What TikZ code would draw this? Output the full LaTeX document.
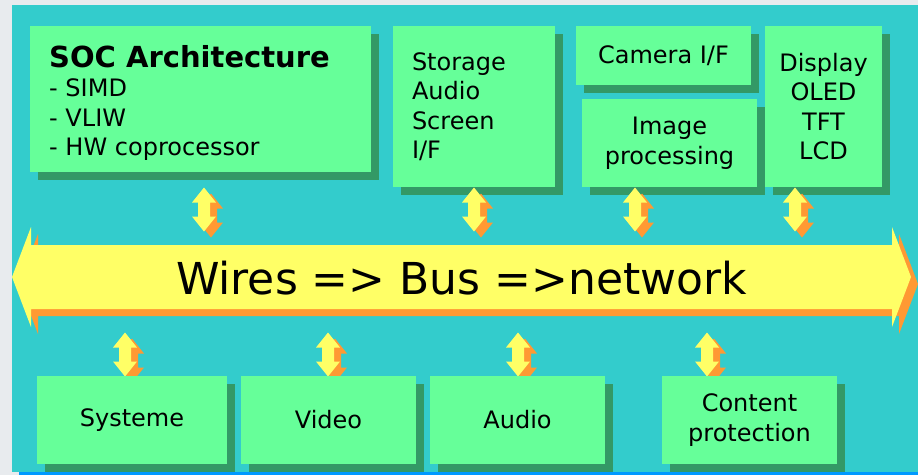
\documentclass[tikz,border=0pt]{standalone}
\usepackage{fontspec}
\setmainfont{DejaVu Sans}
\usetikzlibrary{shadows}
\definecolor{pagegray}{RGB}{232,235,238}
\definecolor{panelteal}{RGB}{51,204,204}
\definecolor{boxgreen}{RGB}{102,255,153}
\definecolor{boxshadow}{RGB}{51,153,102}
\definecolor{busyellow}{RGB}{255,255,102}
\definecolor{busorange}{RGB}{255,153,51}
\definecolor{lineblue}{RGB}{0,153,255}
\newcommand{\updown}{\fill[busorange] (7,6) -- (19,21) -- (13,21) -- (13,35) -- (19,35) -- (7,50) -- (-5,35) -- (1,35) -- (1,21) -- (-5,21) -- cycle;
					\fill[busyellow] (0,0) -- (12,15) -- (6,15) -- (6,29) -- (12,29) -- (0,44) -- (-12,29) -- (-6,29) -- (-6,15) -- (-12,15) -- cycle;}
\tikzset{
	box/.style={fill=boxgreen, inner sep=0pt, align=center,
		font=\fontsize{24}{29.5}\selectfont,
		drop shadow={shadow xshift=8pt, shadow yshift=-8pt, fill=boxshadow, opacity=1}},
	boxtext/.style={inner sep=0pt, align=left, font=\fontsize{24}{29.5}\selectfont},
	bustext/.style={inner sep=0pt, font=\fontsize{44}{50}\selectfont}
}

\begin{document}
\begin{tikzpicture}[x=1pt, y=-1pt]

					\fill[pagegray] (0,0) rectangle (918,475);
					\useasboundingbox (0,0) rectangle (918,475);
					\fill[panelteal] (12,5) rectangle (918,472);
					\fill[lineblue] (19,472) rectangle (918,475);

					\begin{scope}[shift={(125,332.5)}]
						\updown
					\end{scope}

					\begin{scope}[shift={(328,332.5)}]
						\updown
					\end{scope}

					\begin{scope}[shift={(518,332.5)}]
						\updown
					\end{scope}

					\begin{scope}[shift={(707,332.5)}]
						\updown
					\end{scope}

					\node[box, minimum width=341, minimum height=146] (soc) at (200.5,99) {};
					\node[boxtext, anchor=north west] (soctext) at (49,45.2)
						{{\fontsize{29}{29.5}\selectfont\bfseries SOC Architecture}\\- SIMD\\- VLIW\\- HW coprocessor};
					\node[box, align=left, text width=124, inner xsep=19, minimum width=162, minimum height=161] (storage) at (474,106.5)
						{Storage\\Audio\\Screen\\I/F};
					\node[box, minimum width=175, minimum height=59] (camera) at (663.5,55.5) {Camera I/F};
					\node[box, minimum width=175, minimum height=88] (image) at (669.5,143) {Image\\processing};
					\node[box, minimum width=117, minimum height=161] (display) at (823.5,106.5) {Display\\OLED\\TFT\\LCD};

					\node[box, minimum width=190, minimum height=88] (systeme) at (132,420) {Systeme};
					\node[box, minimum width=175, minimum height=88] (video) at (328.5,420) {Video};
					\node[box, minimum width=175, minimum height=88] (audio) at (517.5,420) {Audio};
					\node[box, minimum width=175, minimum height=88] (content) at (749.5,420) {Content\\protection};

					\begin{scope}[shift={(204,187.5)}]
						\updown
					\end{scope}

					\begin{scope}[shift={(474,187.5)}]
						\updown
					\end{scope}

					\begin{scope}[shift={(635,187.5)}]
						\updown
					\end{scope}

					\begin{scope}[shift={(795,187.5)}]
						\updown
					\end{scope}

					\fill[busorange] (19,284) -- (38,234) -- (38,252) -- (899,252) -- (899,234) -- (918,284) -- (899,334) -- (899,316) -- (38,316) -- (38,334) -- cycle;
					\fill[busyellow] (12,277) -- (31,227) -- (31,245) -- (892,245) -- (892,227) -- (911,277) -- (892,327) -- (892,309) -- (31,309) -- (31,327) -- cycle;
					\node[bustext] (bus) at (461.5,278) {Wires => Bus =>network};

\end{tikzpicture}
\end{document}
